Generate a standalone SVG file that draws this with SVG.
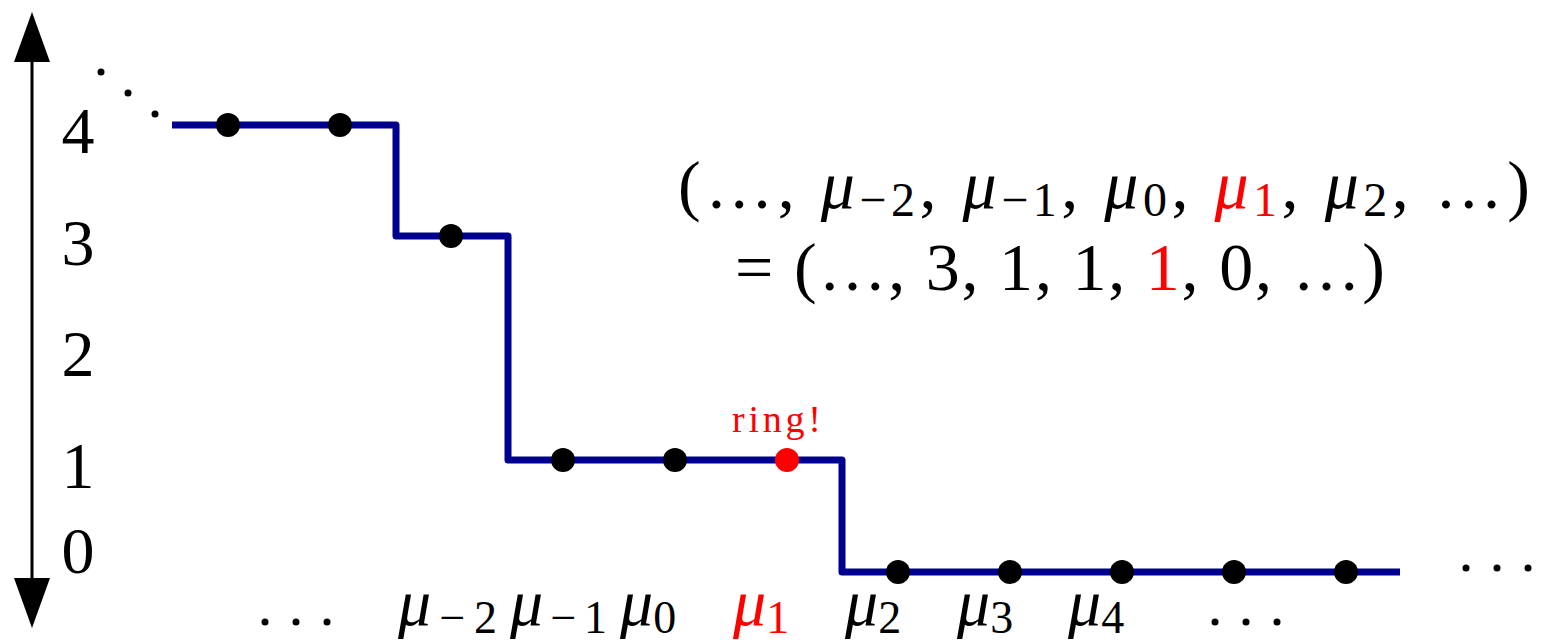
<svg xmlns="http://www.w3.org/2000/svg" width="1541" height="640" viewBox="0 0 1541 640">
<style>
.t{font-family:"Liberation Serif","DejaVu Serif",serif;fill:#000}
.m{font-style:italic}
.r{fill:#ff0000}
.lbl{font-size:66px}
.eq{font-size:68px}
.step{fill:none;stroke:#000090;stroke-width:7;stroke-linejoin:round}
.dot{fill:#000}
</style>
<g id="axis">
<line x1="32" y1="62" x2="32" y2="578" stroke="#000" stroke-width="3"/>
<polygon points="32,12 50,62 14,62" fill="#000"/>
<polygon points="32,628 50,578 14,578" fill="#000"/>
<text class="t lbl" x="78" y="153" text-anchor="middle">4</text>
<text class="t lbl" x="78" y="265" text-anchor="middle">3</text>
<text class="t lbl" x="78" y="376" text-anchor="middle">2</text>
<text class="t lbl" x="78" y="488" text-anchor="middle">1</text>
<text class="t lbl" x="78" y="573" text-anchor="middle">0</text>
</g>
<g id="connectors">
<path class="step" d="M172,125 H396 V236 H508 V460 H842 V572 H1400"/>
</g>
<g id="ddots">
<circle cx="101" cy="72" r="3.5"/>
<circle cx="128" cy="93" r="3.5"/>
<circle cx="155" cy="114" r="3.5"/>
</g>
<g id="points">
<circle class="dot" cx="228" cy="125" r="12"/>
<circle class="dot" cx="340" cy="125" r="12"/>
<circle class="dot" cx="451" cy="236" r="12"/>
<circle class="dot" cx="563" cy="460" r="12"/>
<circle class="dot" cx="675" cy="460" r="12"/>
<circle cx="787" cy="460" r="12" fill="#ff0000"/>
<circle class="dot" cx="898" cy="572" r="12"/>
<circle class="dot" cx="1010" cy="572" r="12"/>
<circle class="dot" cx="1122" cy="572" r="12"/>
<circle class="dot" cx="1234" cy="572" r="12"/>
<circle class="dot" cx="1346" cy="572" r="12"/>
</g>
<g id="ring">
<text class="t r" x="732" y="432" font-size="38" letter-spacing="1" textLength="90" lengthAdjust="spacing">ring!</text>
</g>
<g id="bottom-labels">
<circle cx="265" cy="622" r="3.5"/><circle cx="296" cy="622" r="3.5"/><circle cx="327" cy="622" r="3.5"/>
<text class="t lbl" x="398" y="625" textLength="99" lengthAdjust="spacing"><tspan class="m">μ</tspan><tspan font-size="46" dy="8">−2</tspan></text>
<text class="t lbl" x="510" y="625" textLength="97" lengthAdjust="spacing"><tspan class="m">μ</tspan><tspan font-size="46" dy="8">−1</tspan></text>
<text class="t lbl" x="620" y="625"><tspan class="m">μ</tspan><tspan font-size="46" dy="8">0</tspan></text>
<text class="t lbl r" x="733" y="625"><tspan class="m">μ</tspan><tspan font-size="46" dy="8">1</tspan></text>
<text class="t lbl" x="845" y="625"><tspan class="m">μ</tspan><tspan font-size="46" dy="8">2</tspan></text>
<text class="t lbl" x="957" y="625"><tspan class="m">μ</tspan><tspan font-size="46" dy="8">3</tspan></text>
<text class="t lbl" x="1068" y="625"><tspan class="m">μ</tspan><tspan font-size="46" dy="8">4</tspan></text>
<circle cx="1215" cy="622" r="3.5"/><circle cx="1246" cy="622" r="3.5"/><circle cx="1277" cy="622" r="3.5"/>
<circle cx="1466" cy="568" r="3.5"/><circle cx="1497" cy="568" r="3.5"/><circle cx="1528" cy="568" r="3.5"/>
</g>
<g id="equation">
<text class="t eq" x="678" y="208" textLength="852" lengthAdjust="spacing">(…, <tspan class="m">μ</tspan><tspan font-size="48" dy="8">−2</tspan><tspan dy="-8">, </tspan><tspan class="m">μ</tspan><tspan font-size="48" dy="8">−1</tspan><tspan dy="-8">, </tspan><tspan class="m">μ</tspan><tspan font-size="48" dy="8">0</tspan><tspan dy="-8">, </tspan><tspan class="m r">μ</tspan><tspan class="r" font-size="48" dy="8">1</tspan><tspan dy="-8">, </tspan><tspan class="m">μ</tspan><tspan font-size="48" dy="8">2</tspan><tspan dy="-8">, …)</tspan></text>
<text class="t eq" x="735" y="290" textLength="650" lengthAdjust="spacing">= (…, 3, 1, 1, <tspan class="r">1</tspan>, 0, …)</text>
</g>
</svg>
